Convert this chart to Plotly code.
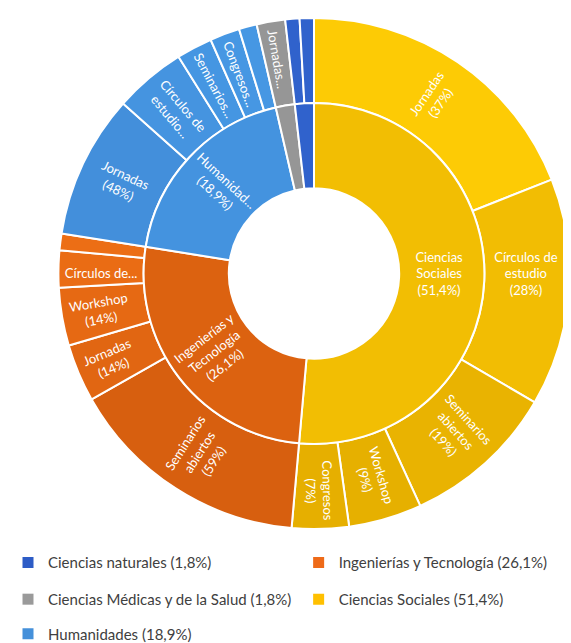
import math
import plotly.graph_objects as go

# ---------------- data ----------------
parents = ["Ciencias Sociales", "Ingenierías y Tecnología", "Humanidades",
           "Ciencias Médicas y de la Salud", "Ciencias naturales"]
parent_pct = [51.4, 26.1, 18.9, 1.8, 1.8]
parent_text = ["Ciencias<br>Sociales<br>(51,4%)", "Ingenierías y<br>Tecnología<br>(26,1%)",
               "Humanidad...<br>(18,9%)", "", ""]

child_parent = ["Ciencias Sociales"] * 5 + ["Ingenierías y Tecnología"] * 5 + ["Humanidades"] * 5 + \
               ["Ciencias Médicas y de la Salud"] + ["Ciencias naturales"] * 2
child_label = ["Jornadas", "Círculos de estudio", "Seminarios abiertos", "Workshop", "Congresos",
               "Seminarios abiertos", "Jornadas", "Workshop", "Círculos de estudio", "Congresos",
               "Jornadas", "Círculos de estudio", "Seminarios abiertos", "Congresos", "Workshop",
               "Jornadas",
               "Jornadas", "Seminarios abiertos"]
child_pct = [37, 28, 19, 9, 7,
             59, 14, 14, 9, 4,
             48, 24, 12, 10, 6,
             100,
             50, 50]
child_text = ["Jornadas<br>(37%)", "Círculos de<br>estudio<br>(28%)", "Seminarios<br>abiertos<br>(19%)",
              "Workshop<br>(9%)", "Congresos<br>(7%)",
              "Seminarios<br>abiertos<br>(59%)", "Jornadas<br>(14%)", "Workshop<br>(14%)", "Círculos de...", "",
              "Jornadas<br>(48%)", "Círculos de<br>estudio...", "Seminarios...", "Congresos...", "",
              "Jornadas...",
              "", ""]

legend_labels = ["Ciencias naturales (1,8%)", "Ingenierías y Tecnología (26,1%)",
                 "Ciencias Médicas y de la Salud (1,8%)", "Ciencias Sociales (51,4%)",
                 "Humanidades (18,9%)"]
legend_keys = ["Ciencias naturales", "Ingenierías y Tecnología",
               "Ciencias Médicas y de la Salud", "Ciencias Sociales", "Humanidades"]

# ---------------- styling ----------------
top_col = {"Ciencias Sociales": (255, 206, 6), "Ingenierías y Tecnología": (255, 124, 26),
           "Humanidades": (70, 152, 228), "Ciencias Médicas y de la Salud": (150, 150, 150),
           "Ciencias naturales": (48, 98, 204)}
bot_col = {"Ciencias Sociales": (230, 175, 0), "Ingenierías y Tecnología": (212, 92, 14),
           "Humanidades": (58, 122, 196), "Ciencias Médicas y de la Salud": (128, 128, 128),
           "Ciencias naturales": (36, 80, 180)}
legend_col = {"Ciencias naturales": "#2D5CC6", "Ingenierías y Tecnología": "#EE6A18",
              "Ciencias Médicas y de la Salud": "#9A9A9A", "Ciencias Sociales": "#FFC000",
              "Humanidades": "#4590DA"}


def shade(key, mid_deg):
    t = (1 - math.cos(math.radians(mid_deg))) / 2  # 0 at top, 1 at bottom
    a, b = top_col[key], bot_col[key]
    return "rgb(%d,%d,%d)" % tuple(round(a[i] + (b[i] - a[i]) * t) for i in range(3))


inner_colors = []
acc = 0.0
for p, v in zip(parents, parent_pct):
    inner_colors.append(shade(p, (acc + v / 2) / 100 * 360))
    acc += v

outer_values = [parent_pct[parents.index(cp)] * c / 100 for cp, c in zip(child_parent, child_pct)]
outer_colors = []
acc = 0.0
for cp, v in zip(child_parent, outer_values):
    outer_colors.append(shade(cp, (acc + v / 2) / 100 * 360))
    acc += v

W, H = 571, 643
cx, cy = 306, 268
r0, r1, r2 = 86, 172, 258


def dom(r):
    return dict(x=[(cx - r) / W, (cx + r) / W],
                y=[(H - cy - r) / H, (H - cy + r) / H])


font_fam = "Lato, 'Open Sans', sans-serif"

fig = go.Figure()
fig.add_trace(go.Pie(
    labels=[f"o{i}" for i in range(len(outer_values))], values=outer_values, text=child_text,
    textinfo="text", textposition="inside", insidetextorientation="radial",
    sort=False, direction="clockwise", rotation=0, hole=r1 / r2, domain=dom(r2),
    marker=dict(colors=outer_colors, line=dict(color="white", width=2)),
    insidetextfont=dict(color="white", size=13, family=font_fam),
    showlegend=False, hoverinfo="skip"))
fig.add_trace(go.Pie(
    labels=parents, values=parent_pct, text=parent_text,
    textinfo="text", textposition="inside", insidetextorientation="radial",
    sort=False, direction="clockwise", rotation=0, hole=r0 / r1, domain=dom(r1),
    marker=dict(colors=inner_colors, line=dict(color="white", width=2)),
    insidetextfont=dict(color="white", size=13, family=font_fam),
    showlegend=False, hoverinfo="skip"))

# legend: one legend box per entry, laid out in two columns
legend_ids = ["legend", "legend2", "legend3", "legend4", "legend5"]
legend_x = [0.0, 0.509, 0.0, 0.509, 0.0]
legend_y_px = [560, 560, 597, 597, 632]
for lab, key, lg in zip(legend_labels, legend_keys, legend_ids):
    fig.add_trace(go.Scatter(x=[None], y=[None], mode="markers", name=lab,
                             marker=dict(symbol="square", size=11, color=legend_col[key]),
                             legend=lg, showlegend=True))

layout_legends = {}
for lg, lx, ly in zip(legend_ids, legend_x, legend_y_px):
    layout_legends[lg] = dict(orientation="h", xanchor="left", yanchor="middle",
                              x=lx, y=1 - ly / H, bgcolor="rgba(0,0,0,0)",
                              font=dict(size=15, color="#404040", family=font_fam))

fig.update_layout(
    width=W, height=H, margin=dict(l=0, r=0, t=0, b=0),
    paper_bgcolor="white", plot_bgcolor="white",
    xaxis=dict(visible=False), yaxis=dict(visible=False),
    **layout_legends,
)
fig.write_html("out.html")
